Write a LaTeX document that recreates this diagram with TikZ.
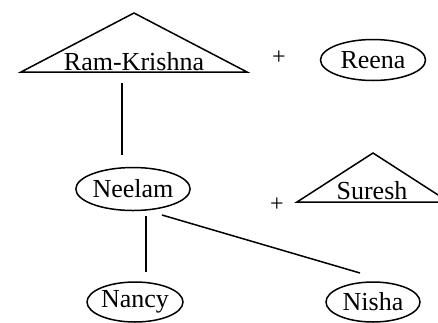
\documentclass[tikz,border=0pt]{standalone}
\usepackage{fontspec}
\setmainfont{Liberation Serif}
\usetikzlibrary{shapes.geometric}
\begin{document}
\begin{tikzpicture}[x=1pt,y=-1pt,line width=1.5pt,
  person/.style={ellipse,draw,inner sep=0pt,font=\fontsize{26}{30}\selectfont},
  tritext/.style={anchor=base,font=\fontsize{26}{30}\selectfont},
  plus/.style={font=\fontsize{24}{28}\selectfont}]
\useasboundingbox (0,0) rectangle (438,322);
% first generation
\draw (21,72)--(134,13)--(247,72)--cycle;
\node (rk) at (134,70) [tritext] {Ram-Krishna};
\node (plusa) at (279,58) [plus] {+};
\node (reena) at (373,60) [person,minimum width=105,minimum height=41] {Reena};
% second generation
\node (neelam) at (133,189) [person,minimum width=113,minimum height=43] {Neelam};
\node (plusb) at (277,205) [plus] {+};
\draw (297,202)--(373,153)--(449,202)--cycle;
\node (suresh) at (372,199) [tritext] {Suresh};
% third generation
\node (nancy) at (135,302) [person,minimum width=95,minimum height=40] {Nancy};
\node (nisha) at (373,302) [person,minimum width=94,minimum height=40] {Nisha};
% lines
\coordinate (rkfoot) at (122,83);
\coordinate (neelamtop) at (122,155);
\coordinate (neelamfoot) at (146,216);
\coordinate (neelamside) at (162,215);
\coordinate (nancytop) at (146,272);
\coordinate (nishatop) at (360,273);
\draw (rkfoot)--(neelamtop);
\draw (neelamfoot)--(nancytop);
\draw (neelamside)--(nishatop);
\end{tikzpicture}
\end{document}
